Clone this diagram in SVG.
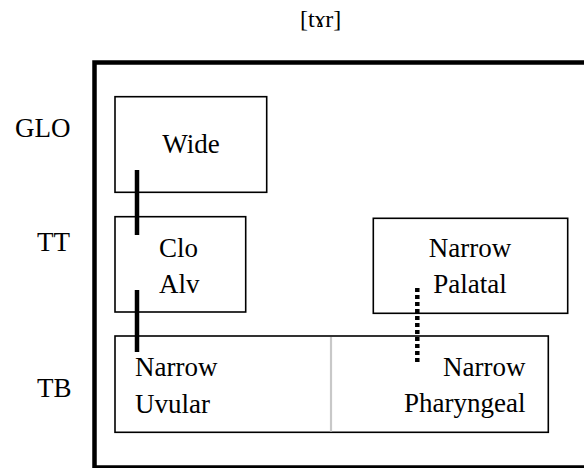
<svg xmlns="http://www.w3.org/2000/svg" width="584" height="468" viewBox="0 0 584 468">
<style>
text{font-family:"Liberation Serif","Times New Roman",serif;font-size:27px;fill:#000}
.box{fill:none;stroke:#000;stroke-width:1.6}
.bar{stroke:#000;stroke-width:4.5;fill:none}
</style>
<rect width="584" height="468" fill="#fff"/>
<text x="300" y="27" style="font-size:24px">[tɤr]</text>
<rect x="94.5" y="62.5" width="520" height="405" fill="none" stroke="#000" stroke-width="4.5"/>
<g id="labels">
<text x="15" y="137">GLO</text>
<text x="37" y="251">TT</text>
<text x="37" y="397">TB</text>
</g>
<g id="wide">
<rect class="box" x="115" y="96.7" width="151.7" height="95.6"/>
<text x="191" y="153" text-anchor="middle">Wide</text>
</g>
<g id="clo-alv">
<rect class="box" x="115" y="216.7" width="130.7" height="95.3"/>
<text x="159" y="256.7">Clo</text>
<text x="159" y="293.4">Alv</text>
</g>
<g id="narrow-palatal">
<rect class="box" x="373.3" y="218.3" width="194.4" height="95"/>
<text x="470" y="256.7" text-anchor="middle">Narrow</text>
<text x="470" y="293.4" text-anchor="middle">Palatal</text>
</g>
<g id="tb">
<rect class="box" x="115" y="336" width="433.3" height="96.3"/>
<line x1="331" y1="337" x2="331" y2="431.5" stroke="#c8c8c8" stroke-width="2.2"/>
<g id="narrow-uvular">
<text x="135" y="376">Narrow</text>
<text x="135" y="412.7">Uvular</text>
</g>
<g id="narrow-pharyngeal">
<text x="525.5" y="375.5" text-anchor="end">Narrow</text>
<text x="525.5" y="412" text-anchor="end">Pharyngeal</text>
</g>
</g>
<g id="connectors">
<line class="bar" x1="137" y1="170" x2="137" y2="235"/>
<line class="bar" x1="137" y1="290" x2="137" y2="352"/>
<line class="bar" x1="417.3" y1="288" x2="417.3" y2="362" stroke-dasharray="4 3"/>
</g>
</svg>
